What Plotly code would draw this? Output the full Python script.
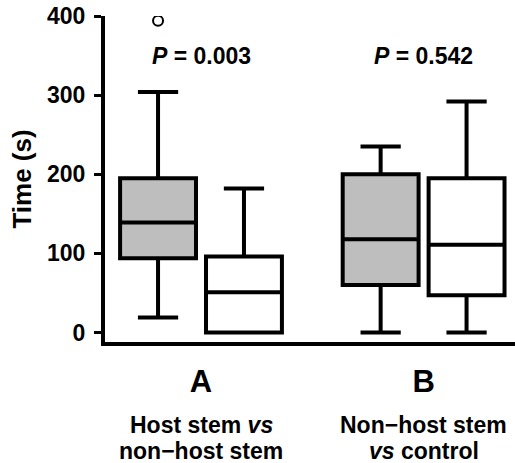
import plotly.graph_objects as go

# ---------------- data ----------------
groups = ["A", "B"]
group_desc_line1 = ["Host stem <i>vs</i>", "Non−host stem"]
group_desc_line2 = ["non−host stem", "<i>vs</i> control"]
p_values = ["0.003", "0.542"]

# grey (first) box in each group
grey_lower = [19, 0]
grey_q1 = [94, 60]
grey_median = [139, 118]
grey_q3 = [195, 200]
grey_upper = [304, 235]

# white (second) box in each group
white_lower = [0, 0]
white_q1 = [0, 47]
white_median = [51, 111]
white_q3 = [96, 195]
white_upper = [182, 292]

# outliers (group index, value) for grey boxes
grey_outlier_group = [0]
grey_outlier_value = [394]

y_ticks = [0, 100, 200, 300, 400]

# ---------------- style ----------------
FONT = "Liberation Sans, Arial, Helvetica, sans-serif"
OFFSET = 0.193
BOX_W = 0.341
LW = 4

pos = list(range(len(groups)))
grey_x = [p - OFFSET for p in pos]
white_x = [p + OFFSET for p in pos]

fig = go.Figure()

fig.add_trace(go.Box(
    x=grey_x, q1=grey_q1, median=grey_median, q3=grey_q3,
    lowerfence=grey_lower, upperfence=grey_upper,
    width=BOX_W, whiskerwidth=0.53,
    fillcolor="#bebebe", line=dict(color="black", width=LW),
    boxpoints=False, showlegend=False, name="grey",
))
fig.add_trace(go.Box(
    x=white_x, q1=white_q1, median=white_median, q3=white_q3,
    lowerfence=white_lower, upperfence=white_upper,
    width=BOX_W, whiskerwidth=0.53,
    fillcolor="white", line=dict(color="black", width=LW),
    boxpoints=False, showlegend=False, name="white",
))
fig.add_trace(go.Scatter(
    x=[grey_x[g] for g in grey_outlier_group], y=grey_outlier_value,
    mode="markers",
    marker=dict(symbol="circle-open", size=10, color="black", line=dict(width=2, color="black")),
    showlegend=False,
))

annotations = []
for i, p in enumerate(p_values):
    annotations.append(dict(
        x=pos[i], y=350, xref="x", yref="y",
        text=f"<b><i>P</i> = {p}</b>", showarrow=False,
        font=dict(family=FONT, size=23, color="black"),
        xanchor="center", yanchor="middle",
    ))
    annotations.append(dict(
        x=pos[i], y=-0.2531, xref="x", yref="paper",
        text=f"<b>{group_desc_line1[i]}</b>", showarrow=False,
        font=dict(family=FONT, size=23, color="black"),
        xanchor="center", yanchor="middle",
    ))
    annotations.append(dict(
        x=pos[i], y=-0.333, xref="x", yref="paper",
        text=f"<b>{group_desc_line2[i]}</b>", showarrow=False,
        font=dict(family=FONT, size=23, color="black"),
        xanchor="center", yanchor="middle",
    ))

fig.update_layout(
    width=515, height=463,
    margin=dict(l=105, r=0, t=16, b=121, pad=0),
    plot_bgcolor="white", paper_bgcolor="white",
    font=dict(family=FONT, color="black"),
    boxmode="overlay",
    annotations=annotations,
    xaxis=dict(
        range=[-0.4313, 1.4106],
        tickvals=pos, ticktext=[f"<b>{g}</b>" for g in groups],
        tickfont=dict(family=FONT, size=31, color="black"),
        ticks="", ticklabelstandoff=9,
        showline=True, linewidth=LW, linecolor="black",
        showgrid=False, zeroline=False,
    ),
    yaxis=dict(
        range=[-12, 400],
        tickvals=y_ticks, ticktext=[f"<b>{t}</b>" for t in y_ticks],
        tickfont=dict(family=FONT, size=23, color="black"),
        ticks="outside", ticklen=7, tickwidth=3, tickcolor="black",
        ticklabelstandoff=4,
        showline=True, linewidth=LW, linecolor="black",
        showgrid=False, zeroline=False,
        title=dict(text="<b>Time (s)</b>", font=dict(family=FONT, size=26, color="black"), standoff=9),
    ),
)

fig.write_html(
    "out.html",
    config={"displayModeBar": False},
    post_script="document.body.style.margin='0';document.body.style.padding='0';",
)
